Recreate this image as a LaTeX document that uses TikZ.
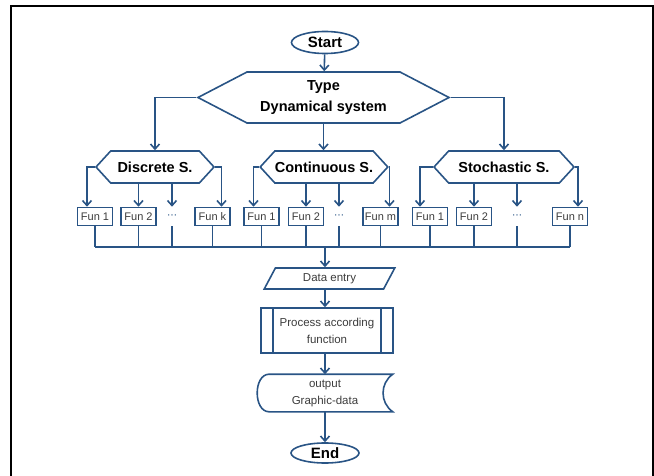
\documentclass[tikz,border=0pt]{standalone}
\usepackage{fontspec}
\setmainfont{Liberation Sans}
\newfontfamily\dotsfont{DejaVu Sans}
\usetikzlibrary{arrows.meta,shapes.geometric,shapes.symbols,calc}
\definecolor{flow}{RGB}{41,84,133}
\definecolor{funtext}{RGB}{60,60,60}

\begin{document}
\begin{tikzpicture}[
    x=1pt,y=-1pt,
    >={Straight Barb[length=5pt,width=9pt]},
    line width=1.6pt,
    every node/.style={font=\fontsize{11.5}{17}\selectfont},
    term/.style={draw=flow,ellipse,minimum width=67pt,minimum height=22pt,inner sep=0pt,font=\bfseries\fontsize{15}{17}\selectfont},
    hexa/.style={draw=flow,signal,signal to=east and west,signal pointer angle=95,minimum height=32pt,inner sep=0pt,font=\bfseries\fontsize{14.5}{21}\selectfont},
    fun/.style={draw=flow,minimum width=35pt,minimum height=18pt,inner sep=0pt,text=funtext,font=\fontsize{11}{13}\selectfont},
    gap/.style={minimum width=35pt,minimum height=18pt,inner sep=0pt,text=flow,font=\dotsfont\fontsize{10}{13}\selectfont},
    io/.style={draw=flow,trapezium,trapezium left angle=62,trapezium right angle=118,minimum width=102pt,minimum height=21pt,inner sep=0pt,text=funtext},
    proc/.style={draw=flow,minimum width=132pt,minimum height=45pt,inner sep=0pt,align=center,text=funtext},
    outbox/.style={minimum width=134pt,minimum height=36pt,inner sep=0pt,align=center,text=funtext},
    flowline/.style={draw=flow,->},
    busline/.style={draw=flow}
  ]
  \useasboundingbox (0,0) rectangle (654,476);
  % page frame
  \draw[black,line width=1.8pt] (11,476) -- (11,6) -- (653,6) -- (653,476);
  % start and type
  \node[term] (start) at (325,42.5) {Start};
  \node[hexa,signal pointer angle=55,minimum width=251pt,minimum height=51pt,align=center] (type) at (323.5,97.5) {Type\\Dynamical system};
  % three kinds of system
  \node[hexa,minimum width=118pt] (disc) at (155,167) {Discrete S.};
  \node[hexa,minimum width=119pt] (cont) at (324,167) {Continuous S.};
  \node[hexa,minimum width=140pt] (stoc) at (504,167) {Stochastic S.};
  % functions
  \node[fun] (d1) at (95,216.5) {Fun 1};
  \node[fun] (d2) at (138.5,216.5) {Fun 2};
  \node[gap] (dd) at (172,216.5) {⋯};
  \node[fun] (dk) at (212.5,216.5) {Fun k};
  \node[fun] (c1) at (261.5,216.5) {Fun 1};
  \node[fun] (c2) at (306,216.5) {Fun 2};
  \node[gap] (cd) at (339,216.5) {⋯};
  \node[fun] (cm) at (380.5,216.5) {Fun m};
  \node[fun] (s1) at (430,216.5) {Fun 1};
  \node[fun] (s2) at (474,216.5) {Fun 2};
  \node[gap] (sd) at (517,216.5) {⋯};
  \node[fun] (sn) at (570,216.5) {Fun n};
  \coordinate (bus) at (325,247);
  % lower chain
  \node[io] (entry) at (329.5,278.5) {Data entry};
  \node[proc] (proc) at (327,330.5) {Process according\\function};
  \node[outbox] (outp) at (325,393) {output\\Graphic-data};
  \node[term,minimum width=68pt,minimum height=20pt] (end) at (325,453) {End};
  % inner bars of the process box
  \draw[busline] ($(proc.north west)+(13,0)$) -- ($(proc.south west)+(13,0)$);
  \draw[busline] ($(proc.north east)+(-13,0)$) -- ($(proc.south east)+(-13,0)$);
  % display shape
  \draw[busline] ($(outp.north west)+(12,0)$) -- (outp.north east)
    .. controls +(-13,9) and +(-13,-9) .. (outp.south east)
    -- ($(outp.south west)+(12,0)$)
    .. controls +(-16,0) and +(-16,0) .. ($(outp.north west)+(12,0)$) -- cycle;
  % upper arrows
  \draw[flowline] (start) -- (type);
  \draw[flowline] (type.west) -| (disc.north);
  \draw[flowline] (type.south) -- (type.south |- cont.north);
  \draw[flowline] (type.east) -| (stoc.north);
  % into the functions
  \draw[flowline] (disc.west) -| ([xshift=-8pt]d1.north);
  \draw[flowline] (d2.north |- disc.south) -- (d2.north);
  \draw[flowline] (dd.north |- disc.south) -- (dd.north);
  \draw[flowline] (disc.east) -| ([xshift=9pt]dk.north);
  \draw[flowline] (cont.west) -| ([xshift=-8pt]c1.north);
  \draw[flowline] (c2.north |- cont.south) -- (c2.north);
  \draw[flowline] (cd.north |- cont.south) -- (cd.north);
  \draw[flowline] (cont.east) -| ([xshift=9pt]cm.north);
  \draw[flowline] (stoc.west) -| ([xshift=-10pt]s1.north);
  \draw[flowline] (s2.north |- stoc.south) -- (s2.north);
  \draw[flowline] (sd.north |- stoc.south) -- (sd.north);
  \draw[flowline] (stoc.east) -| ([xshift=8pt]sn.north);
  % collecting bus
  \foreach \f in {d1,d2,dd,dk,c1,c2,cd,cm,s1,s2,sd,sn}
    \draw[busline] (\f.south) -- (\f.south |- bus);
  \draw[busline] (d1.south |- bus) -- (sn.south |- bus);
  % lower arrows
  \draw[flowline] (bus) -- (bus |- entry.north);
  \draw[flowline] (bus |- entry.south) -- (bus |- proc.north);
  \draw[flowline] (bus |- proc.south) -- (bus |- outp.north);
  \draw[flowline] (bus |- outp.south) -- (end);
\end{tikzpicture}
\end{document}
